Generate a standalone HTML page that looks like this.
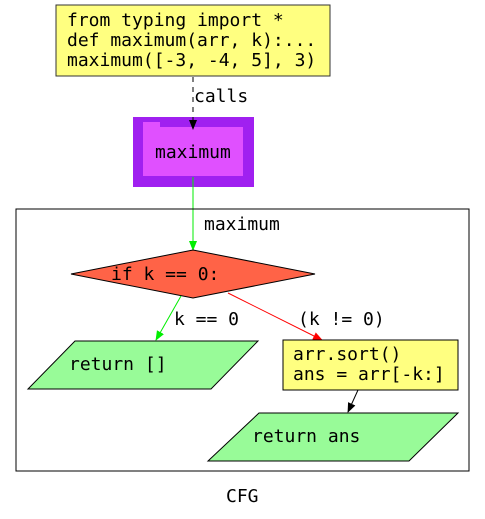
<!DOCTYPE html>
<html><head><meta charset="utf-8"><style>
body{margin:0;background:#fff;}
svg{display:block;}
text{font-family:"DejaVu Sans Mono","Liberation Mono",monospace;font-size:18px;fill:#000;}
</style></head><body>
<svg width="485" height="519" viewBox="0 0 485 519" xmlns="http://www.w3.org/2000/svg">
<defs>
<marker id="ab" markerWidth="10" markerHeight="10" refX="9" refY="5" orient="auto" markerUnits="userSpaceOnUse"><path d="M0,1 L10,5 L0,9 z" fill="#000"/></marker>
<marker id="ag" markerWidth="10" markerHeight="10" refX="9" refY="5" orient="auto" markerUnits="userSpaceOnUse"><path d="M0,1 L10,5 L0,9 z" fill="#00ee00"/></marker>
<marker id="ar" markerWidth="10" markerHeight="10" refX="9" refY="5" orient="auto" markerUnits="userSpaceOnUse"><path d="M0,1 L10,5 L0,9 z" fill="#ff0000"/></marker>
</defs>
<rect x="56" y="5" width="274" height="71" fill="#ffff80" stroke="#333"/>
<text x="67" y="26">from typing import *</text>
<text x="67" y="46">def maximum(arr, k):...</text>
<text x="67" y="66">maximum([-3, -4, 5], 3)</text>
<rect x="133" y="117" width="121" height="70" fill="#a020f0"/>
<path d="M143,122 h17 v5 h83 v49 h-100 z" fill="#e050ff"/>
<text x="155" y="158">maximum</text>
<line x1="193" y1="77" x2="193" y2="129" stroke="#000" stroke-dasharray="5,5" marker-end="url(#ab)"/>
<text x="194" y="102">calls</text>
<line x1="193" y1="177" x2="193" y2="250" stroke="#00ee00" marker-end="url(#ag)"/>
<rect x="16" y="209" width="453" height="262" fill="none" stroke="#000"/>
<text x="204" y="230">maximum</text>
<polygon points="193,250 315,274 193,298 71,274" fill="#ff6347" stroke="#000"/>
<text x="111" y="280">if k == 0:</text>
<line x1="181" y1="296" x2="156" y2="340" stroke="#00ee00" marker-end="url(#ag)"/>
<text x="174" y="325">k == 0</text>
<line x1="228" y1="293" x2="322" y2="340" stroke="#ff0000" marker-end="url(#ar)"/>
<text x="298" y="325">(k != 0)</text>
<polygon points="75,341 258,341 211,389 28,389" fill="#98fb98" stroke="#000"/>
<text x="69" y="370">return []</text>
<rect x="283" y="340" width="175" height="50" fill="#ffff80" stroke="#000"/>
<text x="293" y="360">arr.sort()</text>
<text x="293" y="380">ans = arr[-k:]</text>
<line x1="358" y1="390" x2="348" y2="412" stroke="#000" marker-end="url(#ab)"/>
<polygon points="259,413 458,413 409,461 208,461" fill="#98fb98" stroke="#000"/>
<text x="252" y="442">return ans</text>
<text x="226" y="502">CFG</text>
</svg>
</body></html>
